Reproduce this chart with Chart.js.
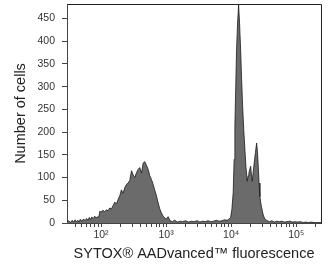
<!DOCTYPE html>
<html>
<head>
<meta charset="utf-8">
<script src="https://cdn.jsdelivr.net/npm/chart.js@4.4.1/dist/chart.umd.min.js"></script>
<style>
  html, body { margin: 0; padding: 0; background: #fff; }
</style>
</head>
<body>
<canvas id="c" width="329" height="271"></canvas>
<script>
/* ── Datos del histograma ─────────────────────────────────────────── */
const fluorescence = [
  30, 32, 34, 36, 38, 40, 42, 44, 46, 48, 51, 54, 57, 60, 63, 66, 69, 72, 76, 80,
  84, 88, 92, 96, 100, 107, 114, 121, 128, 136, 144, 153, 163, 173, 183, 194, 206, 218, 232, 246,
  261, 277, 294, 311, 330, 351, 372, 394, 419, 444, 471, 500, 530, 561, 596, 632, 670, 711, 755, 800,
  849, 900, 955, 1010, 1074, 1150, 1250, 1350, 1500, 1650, 1800, 2000, 2200, 2450, 2700, 3000, 3300, 3650, 4000, 4400,
  4850, 5350, 5900, 6500, 7200, 7900, 8700, 9300, 9790, 10250, 10740, 11100, 11400, 11750, 12100, 12550, 13000, 13450, 13960, 14450,
  15000, 15600, 16260, 16900, 17630, 18200, 18720, 19300, 19900, 20450, 21050, 21800, 22600, 23600, 24600, 25300, 26000, 26800, 27650, 28500,
  29380, 30200, 31050, 32400, 33800, 36000, 39000, 42000, 46000, 50000, 55000, 60000, 66000, 72000, 80000, 88000, 96000, 105000, 116000, 128000,
  140000, 155000, 170000, 188000, 205000, 225000, 240000
];
const cellCounts = [
  2, 5, 1, 6, 2, 7, 3, 6, 2, 8, 4, 9, 5, 10, 6, 12, 8, 13, 10, 15,
  11, 14, 12, 26, 24, 28, 25, 29, 27, 33, 31, 38, 46, 42, 52, 60, 73, 65, 78, 85,
  88, 94, 115, 106, 100, 111, 118, 122, 110, 132, 135, 127, 118, 104, 96, 85, 72, 60, 44, 31,
  22, 15, 11, 9, 14, 5, 3, 6, 2, 4, 3, 5, 2, 4, 3, 5, 2, 4, 3, 5,
  3, 4, 6, 4, 5, 7, 6, 9, 12, 30, 67, 140, 213, 300, 382, 440, 480, 440, 382, 318,
  257, 205, 161, 122, 92, 104, 110, 118, 125, 108, 92, 112, 133, 155, 176, 158, 128, 88, 58, 44,
  34, 26, 18, 11, 7, 5, 3, 5, 2, 4, 3, 4, 2, 3, 4, 2, 3, 2, 3, 1,
  2, 1, 2, 1, 1, 1, 1
];

/* ── Ejes ─────────────────────────────────────────────────────────── */
const xMajorTicks = [100, 1000, 10000, 100000];
const xMajorLabels = ["10²", "10³", "10⁴", "10⁵"];
const xMinorTicks = [
  40, 50, 60, 70, 80, 90,
  200, 300, 400, 500, 600, 700, 800, 900,
  2000, 3000, 4000, 5000, 6000, 7000, 8000, 9000,
  20000, 30000, 40000, 50000, 60000, 70000, 80000, 90000,
  200000
];
const yTicks = [0, 50, 100, 150, 200, 250, 300, 350, 400, 450];
const X_MIN = 30, X_MAX = 240000, Y_MAX = 482;

const AXIS_COLOR = "#444";
const TEXT_COLOR = "#333";
const FONT = "'Liberation Sans', Arial, Helvetica, sans-serif";

/* ─── Plugin: marco superior y derecho del área ─────────────────── */
const frameBox = {
  id: "frameBox",
  afterDraw(chart) {
    const { ctx, chartArea: a } = chart;
    ctx.save();
    ctx.strokeStyle = "#222";
    ctx.lineWidth = 1;
    ctx.beginPath();
    ctx.moveTo(Math.round(a.left) + 0.5, Math.round(a.top) + 0.5);
    ctx.lineTo(Math.round(a.right) + 0.5, Math.round(a.top) + 0.5);
    ctx.lineTo(Math.round(a.right) + 0.5, Math.round(a.bottom) + 0.5);
    ctx.stroke();
    ctx.restore();
  },
};

const points = fluorescence.map((v, i) => ({ x: v, y: cellCounts[i] }));

new Chart(document.getElementById("c"), {
  type: "line",
  data: {
    datasets: [{
      data: points,
      borderColor: "#1a1a1a",
      borderWidth: 0.8,
      backgroundColor: "#6b6b6b",
      fill: "origin",
      pointRadius: 0,
      tension: 0,
    }],
  },
  options: {
    responsive: false,
    animation: false,
    layout: { padding: { top: 4, right: 8, left: 0, bottom: 0 } },
    plugins: { legend: { display: false }, tooltip: { enabled: false } },
    scales: {
      x: {
        type: "logarithmic",
        min: X_MIN,
        max: X_MAX,
        afterBuildTicks: (s) => {
          s.ticks = [...xMajorTicks, ...xMinorTicks]
            .sort((a, b) => a - b)
            .map((v) => ({ value: v }));
        },
        afterFit: (s) => {
          s.height = 48;
          s.paddingLeft = 0;
          s.paddingRight = 0;
        },
        ticks: {
          autoSkip: false,
          maxRotation: 0,
          padding: 2,
          color: TEXT_COLOR,
          font: { family: FONT, size: 10.5 },
          callback: (v) => {
            const i = xMajorTicks.indexOf(v);
            return i >= 0 ? xMajorLabels[i] : "";
          },
        },
        grid: {
          drawOnChartArea: false,
          drawTicks: true,
          tickLength: 4,
          tickColor: AXIS_COLOR,
        },
        border: { display: true, color: AXIS_COLOR, width: 1 },
        title: {
          display: true,
          text: "SYTOX® AADvanced™ fluorescence",
          color: "#222",
          font: { family: FONT, size: 14.5 },
          padding: { top: 0, bottom: 8 },
        },
      },
      y: {
        min: 0,
        max: Y_MAX,
        afterBuildTicks: (s) => {
          s.ticks = yTicks.map((v) => ({ value: v }));
        },
        afterFit: (s) => {
          s.width = 67;
          s.paddingTop = 0;
          s.paddingBottom = 0;
        },
        ticks: {
          padding: 7,
          color: TEXT_COLOR,
          font: { family: FONT, size: 10.5 },
        },
        grid: {
          drawOnChartArea: false,
          drawTicks: true,
          tickLength: 5,
          tickColor: AXIS_COLOR,
        },
        border: { display: true, color: AXIS_COLOR, width: 1 },
        title: {
          display: true,
          text: "Number of cells",
          color: "#222",
          font: { family: FONT, size: 14.5 },
          padding: { top: 12, bottom: 0 },
        },
      },
    },
  },
  plugins: [frameBox],
});
</script>
</body>
</html>
